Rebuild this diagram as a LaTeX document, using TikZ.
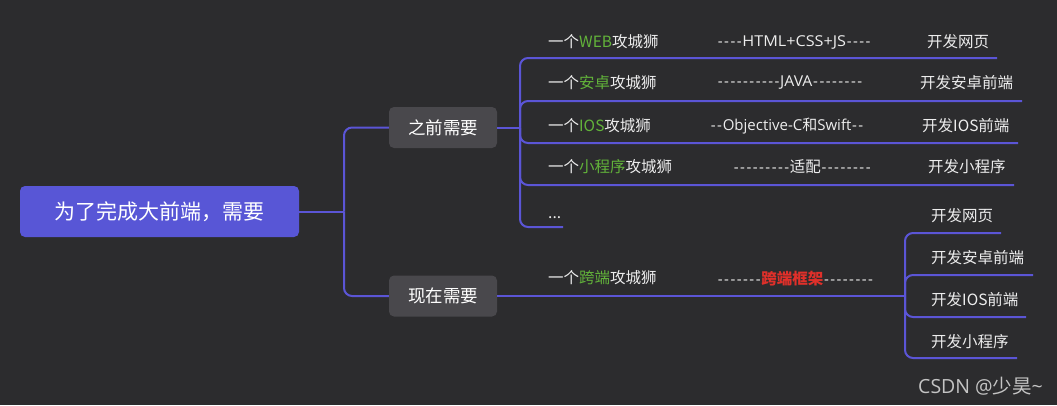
\documentclass[tikz,border=0pt]{standalone}
\usepackage{fontspec}
\setmainfont{Noto Sans CJK SC}[Ligatures=TeXOff]
\newfontfamily\lat{Open Sans}[Ligatures=TeXOff]
\newfontfamily\cjk{Noto Sans CJK SC}[Ligatures=TeXOff]
\newcommand\hy{\makebox[6.3pt]{-}}
\definecolor{bg}{HTML}{2C2C2E}
\definecolor{ln}{HTML}{5B55D6}
\definecolor{rootc}{HTML}{5856D6}
\definecolor{boxc}{HTML}{49484C}
\definecolor{grn}{HTML}{62B33A}
\definecolor{redc}{HTML}{E0302A}
\definecolor{txt}{HTML}{EDEDED}
\definecolor{wm}{HTML}{C4C4C4}
\begin{document}
\begin{tikzpicture}[x=1pt,y=-1pt,
  lk/.style={draw=ln, line width=2pt, rounded corners=8pt},
  rootbox/.style={fill=rootc, rounded corners=5pt, text=white, minimum width=279pt, minimum height=51pt, inner sep=0pt, font=\fontsize{21}{22}\selectfont},
  graybox/.style={fill=boxc, rounded corners=5pt, text=white, minimum width=108pt, minimum height=41pt, inner sep=0pt, font=\fontsize{17.5}{18}\selectfont},
  lbl/.style={anchor=west, inner sep=0pt, text=txt, font=\fontsize{15.5}{16}\selectfont},
  mid/.style={anchor=west, inner sep=0pt, text=txt, font=\lat\fontsize{15}{16}\selectfont}]
\fill[bg] (0,0) rectangle (1057,405);
\useasboundingbox (0,0) rectangle (1057,405);

% main nodes
\node[rootbox] (root) at (159.5,211.5) {为了完成大前端，需要};
\node[graybox] (qian) at (443,127.5) {之前需要};
\node[graybox] (xian) at (443,296) {现在需要};

% junctions
\coordinate (rj) at (344,211.5);
\coordinate (qj) at (520,127.5);
\coordinate (xj) at (905,296);

% line ends
\coordinate (u1) at (997,58);
\coordinate (u2) at (1022,101);
\coordinate (u3) at (1018,143);
\coordinate (u4) at (1014,185);
\coordinate (u5) at (563,227);
\coordinate (v1) at (1001,233);
\coordinate (v2) at (1033,275);
\coordinate (v3) at (1026,317);
\coordinate (v4) at (1017,358);

\draw[lk] (root.east) -- (rj);
\draw[lk] (rj) |- (qian.west);
\draw[lk] (rj) |- (xian.west);
\draw[lk] (qian.east) -- (qj);
\foreach \u in {u1,u2,u3,u4,u5} \draw[lk] (qj) |- (\u);
\draw[lk] (xian.east) -- (xj);
\foreach \v in {v1,v2,v3,v4} \draw[lk] (xj) |- (\v);

% row texts (before)
\node[lbl] (a1) at (548,42) {一个\textcolor{grn}{WEB}攻城狮};
\node[mid] (b1) at (717,42) {\hy\hy\hy\hy\scalebox{1.08}[1]{HTML+CSS+JS}\hy\hy\hy\hy};
\node[lbl] (c1) at (927,42) {开发网页};

\node[lbl] (a2) at (548,83) {一个\textcolor{grn}{安卓}攻城狮};
\node[mid] (b2) at (717,83) {\hy\hy\hy\hy\hy\hy\hy\hy\hy\hy\scalebox{1.05}[1]{JAVA}\hy\hy\hy\hy\hy\hy\hy\hy};
\node[lbl] (c2) at (920,83) {开发安卓前端};

\node[lbl] (a3) at (548,126) {一个\textcolor{grn}{IOS}攻城狮};
\node[mid] (b3) at (710,126) {\hy\hy Objective-C{\cjk 和}Swift\hy\hy};
\node[lbl] (c3) at (922,126) {开发IOS前端};

\node[lbl] (a4) at (548,167) {一个\textcolor{grn}{小程序}攻城狮};
\node[mid] (b4) at (733,167) {\hy\hy\hy\hy\hy\hy\hy\hy\hy{\cjk\fontsize{15.5}{16}\selectfont 适配}\hy\hy\hy\hy\hy\hy\hy\hy};
\node[lbl] (c4) at (928,167) {开发小程序};

\node[lbl, anchor=base west] (a5) at (548,218) {...};

% row texts (now)
\node[lbl] (a6) at (548,278) {一个\textcolor{grn}{跨端}攻城狮};
\node[mid] (b6) at (717,279) {\hy\hy\hy\hy\hy\hy\hy{\cjk\bfseries\fontsize{15.5}{16}\selectfont\color{redc}跨端框架}\hy\hy\hy\hy\hy\hy\hy\hy};

\node[lbl] (d1) at (931,216) {开发网页};
\node[lbl] (d2) at (931,258) {开发安卓前端};
\node[lbl] (d3) at (931,300) {开发IOS前端};
\node[lbl] (d4) at (931,342) {开发小程序};

\node[anchor=west, inner sep=0pt, text=wm, font=\fontsize{19.5}{20}\selectfont] (wmk) at (918,386) {{\lat CSDN @}少昊{\lat\textasciitilde}};
\end{tikzpicture}
\end{document}
